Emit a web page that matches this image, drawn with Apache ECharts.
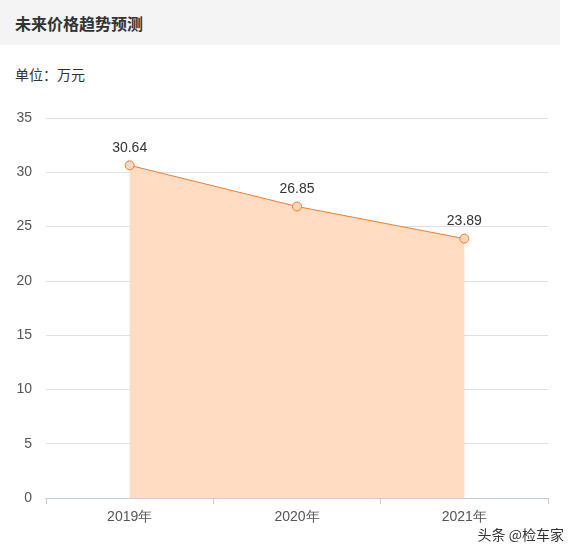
<!DOCTYPE html>
<html><head><meta charset="utf-8">
<script src="https://cdn.jsdelivr.net/npm/echarts@6/dist/echarts.min.js"></script>
<style>
body{margin:0;background:#fff;font-family:"Noto Sans CJK SC",sans-serif;}
#hd{position:absolute;left:0;top:0;width:560px;height:45px;background:#f4f4f4;}
#hd span{position:absolute;left:15px;top:11px;font-size:16px;font-weight:bold;color:#333;}
#unit{position:absolute;left:15px;top:64px;font-size:14px;color:#333;}
#chart{position:absolute;left:0;top:95px;width:578px;height:440px;}
#wm{position:absolute;right:14px;top:524px;font-size:14px;color:#333;}
</style></head><body>
<div id="hd"><span>未来价格趋势预测</span></div>
<div id="unit">单位：万元</div>
<div id="chart"></div>
<div id="wm">头条 @检车家</div>
<script>
var years = ["2019年", "2020年", "2021年"];
var prices = [30.64, 26.85, 23.89];
var yTicks = {min: 0, max: 35, interval: 5};

var chart = echarts.init(document.getElementById("chart"));
chart.setOption({
    animation: false,
    grid: {left: 46, right: 30, top: 23, bottom: 37},
    xAxis: {
        type: "category", data: years, boundaryGap: true,
        axisLine: {show: true, lineStyle: {color: "#c5cfdc"}},
        axisTick: {show: true, alignWithLabel: false, lineStyle: {color: "#c5cfdc"}, length: 6},
        axisLabel: {color: "#555", fontSize: 14, margin: 12}
    },
    yAxis: {
        type: "value", min: yTicks.min, max: yTicks.max, interval: yTicks.interval,
        axisLine: {show: false}, axisTick: {show: false},
        axisLabel: {color: "#555", fontSize: 14, margin: 14},
        splitLine: {lineStyle: {color: "#dde0e6"}}
    },
    series: [{
        type: "line", data: prices,
        symbol: "circle", symbolSize: 9,
        lineStyle: {color: "#ff7a1c", width: 1},
        itemStyle: {color: "#fcd7bd", borderColor: "#ff7a1c", borderWidth: 1},
        areaStyle: {color: "#ffdcc2", opacity: 1},
        label: {show: true, position: "top", color: "#333", fontSize: 14, distance: 5}
    }]
});
</script>
</body></html>
